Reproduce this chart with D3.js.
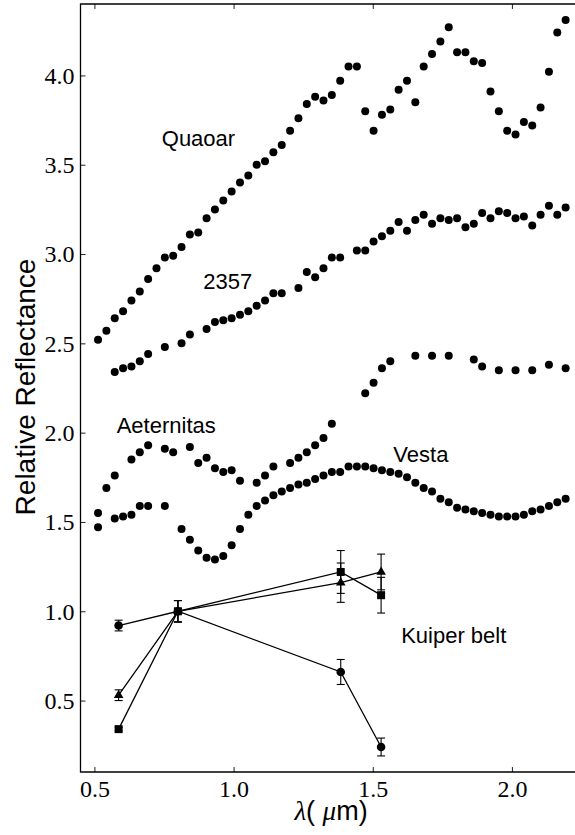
<!DOCTYPE html>
<html>
<head>
<meta charset="utf-8">
<script src="https://cdn.jsdelivr.net/npm/d3@7"></script>
<style>
  body { margin: 0; background: #fff; }
  svg { display: block; }
  .tick text { font-family: "Liberation Serif", "Times New Roman", serif; font-size: 24px; }
</style>
</head>
<body>
<div id="chart"></div>
<script>
// spectra (wavelength in micron, relative reflectance)
var quaoarX = [0.513, 0.543, 0.573, 0.603, 0.633, 0.663, 0.693, 0.723, 0.753, 0.783,
  0.813, 0.843, 0.873, 0.903, 0.933, 0.963, 0.993, 1.023, 1.053, 1.083,
  1.113, 1.143, 1.173, 1.203, 1.233, 1.263, 1.293, 1.323, 1.353, 1.383,
  1.413, 1.443, 1.473, 1.503, 1.533, 1.563, 1.593, 1.623, 1.653, 1.683,
  1.713, 1.743, 1.773, 1.803, 1.833, 1.863, 1.893, 1.923, 1.953, 1.983,
  2.013, 2.043, 2.073, 2.103, 2.133, 2.163, 2.193];
var quaoarY = [2.52, 2.57, 2.64, 2.68, 2.74, 2.79, 2.86, 2.92, 2.98, 2.99,
  3.04, 3.11, 3.12, 3.20, 3.25, 3.30, 3.35, 3.40, 3.44, 3.50,
  3.52, 3.57, 3.61, 3.69, 3.76, 3.84, 3.88, 3.86, 3.89, 3.97,
  4.05, 4.05, 3.80, 3.69, 3.78, 3.81, 3.92, 3.97, 3.85, 4.05,
  4.12, 4.19, 4.27, 4.13, 4.13, 4.08, 4.07, 3.91, 3.80, 3.69,
  3.67, 3.74, 3.72, 3.82, 4.02, 4.24, 4.31];

var ast2357X = [0.573, 0.603, 0.633, 0.663, 0.693, 0.753, 0.813, 0.843, 0.903, 0.933,
  0.963, 0.993, 1.023, 1.053, 1.083, 1.113, 1.143, 1.173, 1.233, 1.263,
  1.293, 1.323, 1.353, 1.383, 1.443, 1.473, 1.503, 1.533, 1.563, 1.593,
  1.623, 1.653, 1.683, 1.713, 1.743, 1.773, 1.803, 1.833, 1.863, 1.893,
  1.923, 1.953, 1.983, 2.013, 2.043, 2.073, 2.103, 2.133, 2.163, 2.193];
var ast2357Y = [2.34, 2.36, 2.37, 2.40, 2.44, 2.48, 2.50, 2.55, 2.58, 2.62,
  2.63, 2.64, 2.66, 2.68, 2.71, 2.74, 2.78, 2.78, 2.81, 2.90,
  2.87, 2.92, 2.98, 2.98, 3.02, 3.02, 3.07, 3.10, 3.13, 3.18,
  3.13, 3.19, 3.22, 3.17, 3.20, 3.19, 3.20, 3.15, 3.17, 3.23,
  3.20, 3.24, 3.23, 3.20, 3.21, 3.16, 3.22, 3.27, 3.22, 3.26];

var aeternitasX = [0.513, 0.543, 0.573, 0.633, 0.663, 0.693, 0.753, 0.783, 0.843, 0.873,
  0.903, 0.933, 0.963, 0.993, 1.023, 1.083, 1.113, 1.143, 1.203, 1.233,
  1.263, 1.293, 1.323, 1.353, 1.473, 1.503, 1.533, 1.563, 1.653, 1.713,
  1.773, 1.863, 1.893, 1.953, 2.013, 2.073, 2.133, 2.193];
var aeternitasY = [1.55, 1.69, 1.76, 1.85, 1.89, 1.93, 1.91, 1.89, 1.92, 1.83,
  1.86, 1.80, 1.78, 1.79, 1.73, 1.72, 1.76, 1.81, 1.83, 1.86,
  1.89, 1.93, 1.97, 2.05, 2.22, 2.28, 2.36, 2.40, 2.43, 2.43,
  2.43, 2.41, 2.37, 2.35, 2.35, 2.35, 2.38, 2.36];

var vestaX = [0.513, 0.573, 0.603, 0.633, 0.663, 0.693, 0.753, 0.813, 0.843, 0.873,
  0.903, 0.933, 0.963, 0.993, 1.023, 1.053, 1.083, 1.113, 1.143, 1.173,
  1.203, 1.233, 1.263, 1.293, 1.323, 1.353, 1.383, 1.413, 1.443, 1.473,
  1.503, 1.533, 1.563, 1.593, 1.623, 1.653, 1.683, 1.713, 1.743, 1.773,
  1.803, 1.833, 1.863, 1.893, 1.923, 1.953, 1.983, 2.013, 2.043, 2.073,
  2.103, 2.133, 2.163, 2.193];
var vestaY = [1.47, 1.52, 1.53, 1.54, 1.59, 1.59, 1.59, 1.46, 1.40, 1.34,
  1.30, 1.29, 1.31, 1.37, 1.46, 1.54, 1.59, 1.62, 1.65, 1.67,
  1.69, 1.71, 1.72, 1.74, 1.76, 1.78, 1.78, 1.81, 1.81, 1.81,
  1.80, 1.79, 1.78, 1.77, 1.75, 1.72, 1.69, 1.67, 1.63, 1.61,
  1.58, 1.57, 1.56, 1.55, 1.54, 1.53, 1.53, 1.53, 1.54, 1.56,
  1.57, 1.59, 1.61, 1.63];

// Kuiper belt broadband colours, normalised at 0.8 micron
var kbX = [0.587, 0.80, 1.385, 1.53];
var kbCircleY = [0.92, 1.00, 0.66, 0.24];
var kbCircleErr = [0.03, 0.06, 0.07, 0.05];
var kbTriangleY = [0.53, 1.00, 1.16, 1.22];
var kbTriangleErr = [0.03, 0.06, 0.11, 0.10];
var kbSquareY = [0.34, 1.00, 1.22, 1.09];
var kbSquareErr = [0.01, 0.06, 0.12, 0.10];

var xTicks = [0.5, 1.0, 1.5, 2.0];
var yTicks = [0.5, 1.0, 1.5, 2.0, 2.5, 3.0, 3.5, 4.0];

var labels = [
  {text: "Quaoar", x: 0.742, y: 3.605},
  {text: "2357", x: 0.891, y: 2.803},
  {text: "Aeternitas", x: 0.58, y: 2.00},
  {text: "Vesta", x: 1.574, y: 1.837},
  {text: "Kuiper belt", x: 1.602, y: 0.824}
];

var width = 575, height = 835;
var plotLeft = 80.5, plotRight = 581.5, plotTop = 4, plotBottom = 772;

var svg = d3.select("#chart").append("svg")
  .attr("width", width)
  .attr("height", height);

var x = d3.scaleLinear().domain([0.45, 2.25]).range([plotLeft, plotRight]);
var y = d3.scaleLinear().domain([0.1, 4.4]).range([plotBottom, plotTop]);

var serif = "Liberation Serif, Times New Roman, serif";
var sans = "Liberation Sans, Arial, sans-serif";

// axes with inward ticks
var gx = svg.append("g")
  .attr("transform", "translate(0," + plotBottom + ")")
  .call(d3.axisBottom(x).tickValues(xTicks).tickFormat(d3.format(".1f"))
    .tickSizeInner(-5).tickSizeOuter(0).tickPadding(8));
var gxTop = svg.append("g")
  .attr("transform", "translate(0," + plotTop + ")")
  .call(d3.axisTop(x).tickValues(xTicks).tickFormat("")
    .tickSizeInner(-5).tickSizeOuter(0));
var gy = svg.append("g")
  .attr("transform", "translate(" + plotLeft + ",0)")
  .call(d3.axisLeft(y).tickValues(yTicks).tickFormat(d3.format(".1f"))
    .tickSizeInner(-5).tickSizeOuter(0).tickPadding(6));

[gx, gxTop, gy].forEach(function(g) {
  g.attr("font-family", serif).attr("font-size", 24);
});
svg.selectAll(".domain").remove();
svg.selectAll(".tick line").attr("stroke", "#222").attr("stroke-width", 1);
svg.selectAll(".tick text").attr("fill", "#000");
gy.selectAll(".tick text").attr("dy", "0.33em");

// frame
svg.append("path")
  .attr("d", "M" + plotRight + "," + plotTop + "H" + plotLeft + "V" + plotBottom + "H" + plotRight)
  .attr("fill", "none")
  .attr("stroke", "#000")
  .attr("stroke-width", 1.3);

// spectra
function dots(xs, ys) {
  svg.append("g").selectAll("circle")
    .data(xs).enter().append("circle")
    .attr("cx", function(d) { return x(d); })
    .attr("cy", function(d, i) { return y(ys[i]); })
    .attr("r", 4)
    .attr("fill", "#000");
}
dots(quaoarX, quaoarY);
dots(ast2357X, ast2357Y);
dots(aeternitasX, aeternitasY);
dots(vestaX, vestaY);

// Kuiper belt series with error bars
function kuiper(ys, errs, symbol, size) {
  var g = svg.append("g");
  var line = d3.line()
    .x(function(d) { return x(d); })
    .y(function(d, i) { return y(ys[i]); });
  g.append("path")
    .attr("d", line(kbX))
    .attr("fill", "none")
    .attr("stroke", "#000")
    .attr("stroke-width", 1.3);

  var eb = g.selectAll(".eb").data(kbX).enter().append("g");
  eb.append("line")
    .attr("x1", function(d) { return x(d); })
    .attr("x2", function(d) { return x(d); })
    .attr("y1", function(d, i) { return y(ys[i] - errs[i]); })
    .attr("y2", function(d, i) { return y(ys[i] + errs[i]); })
    .attr("stroke", "#000").attr("stroke-width", 1.1);
  [-1, 1].forEach(function(s) {
    eb.append("line")
      .attr("x1", function(d) { return x(d) - 4; })
      .attr("x2", function(d) { return x(d) + 4; })
      .attr("y1", function(d, i) { return y(ys[i] + s * errs[i]); })
      .attr("y2", function(d, i) { return y(ys[i] + s * errs[i]); })
      .attr("stroke", "#000").attr("stroke-width", 1.1);
  });

  g.selectAll(".mk").data(kbX).enter().append("path")
    .attr("transform", function(d, i) {
      return "translate(" + x(d) + "," + y(ys[i]) + ")";
    })
    .attr("d", d3.symbol().type(symbol).size(size))
    .attr("fill", "#000");
}
kuiper(kbCircleY, kbCircleErr, d3.symbolCircle, 58);
kuiper(kbTriangleY, kbTriangleErr, d3.symbolTriangle, 40);
kuiper(kbSquareY, kbSquareErr, d3.symbolSquare, 64);

// object names
svg.append("g").selectAll("text")
  .data(labels).enter().append("text")
  .attr("x", function(d) { return x(d.x); })
  .attr("y", function(d) { return y(d.y); })
  .attr("font-family", sans)
  .attr("font-size", 22)
  .attr("fill", "#000")
  .text(function(d) { return d.text; });

// axis titles
svg.append("text")
  .attr("transform", "translate(35," + 387 + ") rotate(-90)")
  .attr("text-anchor", "middle")
  .attr("font-family", sans)
  .attr("font-size", 28)
  .text("Relative Reflectance");

var xl = svg.append("text")
  .attr("x", (plotLeft + plotRight) / 2)
  .attr("y", 820)
  .attr("text-anchor", "middle")
  .attr("font-family", sans)
  .attr("font-size", 27);
xl.append("tspan").attr("font-family", serif).attr("font-style", "italic").text("\u03bb");
xl.append("tspan").text("( ");
xl.append("tspan").attr("font-family", serif).attr("font-style", "italic").text("\u03bc");
xl.append("tspan").text("m)");
</script>
</body>
</html>
